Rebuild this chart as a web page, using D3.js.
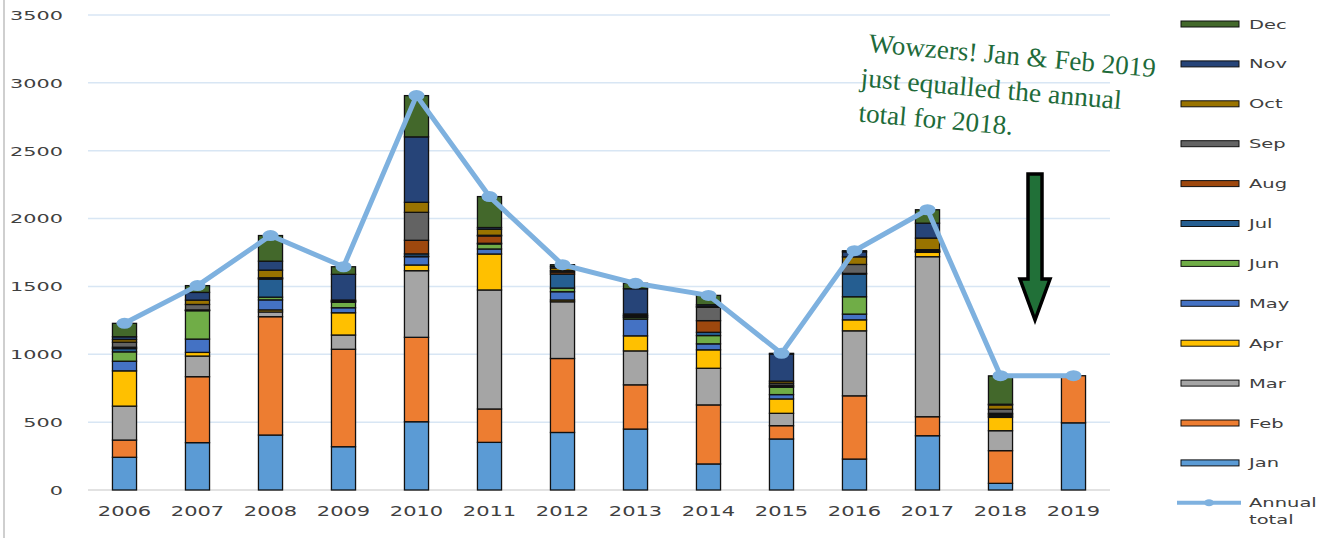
<!DOCTYPE html>
<html>
<head>
<meta charset="utf-8">
<script src="https://cdnjs.cloudflare.com/ajax/libs/d3/7.8.5/d3.min.js"></script>
<style>
  body { margin: 0; background: #fff; }
  svg { display: block; }
</style>
</head>
<body>
<div id="chart"></div>
<script>
var years = ["2006","2007","2008","2009","2010","2011","2012","2013","2014","2015","2016","2017","2018","2019"];
var months = ["Jan","Feb","Mar","Apr","May","Jun","Jul","Aug","Sep","Oct","Nov","Dec"];

var jan = [241,349,405,319,503,351,424,449,192,376,228,400,49,495];
var feb = [127,486,872,718,622,246,545,326,435,98,466,140,241,347];
var mar = [250,152,35,105,491,877,418,250,270,91,479,1179,147,0];
var apr = [260,27,15,164,42,265,13,111,136,106,81,32,98,0];
var may = [71,98,74,37,61,37,61,123,44,32,42,3,8,0];
var jun = [69,209,20,40,3,37,27,12,61,54,128,3,10,0];
var jul = [24,3,133,4,18,5,103,4,24,7,167,3,7,0];
var aug = [10,3,5,4,100,54,15,8,86,8,5,3,5,0];
var sep = [37,40,5,4,206,5,10,4,98,15,66,8,30,0];
var oct = [20,32,56,5,74,44,20,10,7,15,56,85,32,0];
var nov = [20,57,66,189,482,13,12,186,12,200,37,110,5,0];
var dec = [99,50,189,56,304,228,12,40,69,5,8,99,209,0];
var annualTotal = [1228,1506,1875,1645,2906,2162,1660,1523,1434,1007,1763,2065,842,842];

var yTicks = [0,500,1000,1500,2000,2500,3000,3500];

var monthColours = ["#5B9BD5","#ED7D31","#A5A5A5","#FFC000","#4472C4","#70AD47",
                    "#255E91","#9E480E","#636363","#997300","#264478","#43682B"];
var lineColour = "#7EB1DF";

var width = 1332, height = 538;
var plot = {left: 88, right: 1110, top: 15, bottom: 490};

var svg = d3.select("#chart").append("svg")
    .attr("width", width)
    .attr("height", height);

// left border of the picture
svg.append("line")
    .attr("x1", 4).attr("x2", 4).attr("y1", 0).attr("y2", height)
    .attr("stroke", "#cfcfcf").attr("stroke-width", 2);

var series = [jan,feb,mar,apr,may,jun,jul,aug,sep,oct,nov,dec];
var table = years.map(function(y, i) {
    var row = {year: y};
    months.forEach(function(m, j) { row[m] = series[j][i]; });
    return row;
});

var x = d3.scaleBand()
    .domain(years)
    .range([plot.left, plot.right])
    .paddingInner(0.67)
    .paddingOuter(0.335);

var y = d3.scaleLinear()
    .domain([0, 3500])
    .range([plot.bottom, plot.top]);

var colour = d3.scaleOrdinal().domain(months).range(monthColours);

// gridlines
svg.append("g")
    .selectAll("line")
    .data(yTicks.filter(function(t){ return t > 0; }))
    .enter().append("line")
    .attr("x1", plot.left).attr("x2", plot.right)
    .attr("y1", function(d){ return y(d); })
    .attr("y2", function(d){ return y(d); })
    .attr("stroke", "#d8e6f4")
    .attr("stroke-width", 1.5);

svg.append("line")
    .attr("x1", plot.left).attr("x2", plot.right)
    .attr("y1", plot.bottom).attr("y2", plot.bottom)
    .attr("stroke", "#d9d9d9").attr("stroke-width", 1.5);

// axes
var yAxis = svg.append("g")
    .attr("transform", "translate(" + plot.left + ",0)")
    .call(d3.axisLeft(y).tickValues(yTicks).tickSize(0).tickFormat(d3.format("d")));
yAxis.select(".domain").remove();
yAxis.selectAll("text")
    .attr("x", 0)
    .attr("dy", "0.34em")
    .attr("transform", "translate(-25,0) scale(1.6,1)")
    .style("font-family", "'DejaVu Sans', sans-serif")
    .style("font-size", "13px")
    .attr("fill", "#404040");

var xAxis = svg.append("g")
    .attr("transform", "translate(0," + plot.bottom + ")")
    .call(d3.axisBottom(x).tickSize(0));
xAxis.select(".domain").remove();
xAxis.selectAll("text")
    .attr("y", 0)
    .attr("dy", "0.34em")
    .attr("transform", "translate(0,21) scale(1.5,1)")
    .style("font-family", "'DejaVu Sans', sans-serif")
    .style("font-size", "14px")
    .attr("fill", "#404040");

// stacked bars
var stack = d3.stack().keys(months);
var layers = stack(table);

svg.append("g")
    .selectAll("g")
    .data(layers)
    .enter().append("g")
        .attr("fill", function(d){ return colour(d.key); })
    .selectAll("rect")
    .data(function(d){ return d; })
    .enter().append("rect")
        .attr("x", function(d){ return x(d.data.year); })
        .attr("width", x.bandwidth())
        .attr("y", function(d){ return y(d[1]); })
        .attr("height", function(d){ return y(d[0]) - y(d[1]); })
        .attr("stroke", "#111")
        .attr("stroke-width", 1.3);

// annual total line
var line = d3.line()
    .x(function(d, i){ return x(years[i]) + x.bandwidth() / 2; })
    .y(function(d){ return y(d); });

svg.append("path")
    .datum(annualTotal)
    .attr("d", line)
    .attr("fill", "none")
    .attr("stroke", lineColour)
    .attr("stroke-width", 5)
    .attr("stroke-linejoin", "round");

svg.append("g")
    .selectAll("ellipse")
    .data(annualTotal)
    .enter().append("ellipse")
    .attr("cx", function(d, i){ return x(years[i]) + x.bandwidth() / 2; })
    .attr("cy", function(d){ return y(d); })
    .attr("rx", 8).attr("ry", 5.5)
    .attr("fill", lineColour);

// legend
var legend = svg.append("g").attr("transform", "translate(1181,24)");
var legendRows = months.slice().reverse();

var item = legend.selectAll("g.item")
    .data(legendRows)
    .enter().append("g")
    .attr("class", "item")
    .attr("transform", function(d, i){ return "translate(0," + (i * 39.9) + ")"; });

item.append("rect")
    .attr("x", 0).attr("y", -3)
    .attr("width", 58).attr("height", 6)
    .attr("fill", function(d){ return colour(d); })
    .attr("stroke", "#111").attr("stroke-width", 1);

item.append("text")
    .attr("transform", "translate(68,0) scale(1.5,1)")
    .attr("dy", "0.35em")
    .style("font-family", "'DejaVu Sans', sans-serif")
    .style("font-size", "13px")
    .attr("fill", "#404040")
    .text(function(d){ return d; });

var lineItem = legend.append("g")
    .attr("transform", "translate(0," + (12 * 39.9) + ")");
lineItem.append("line")
    .attr("x1", -4).attr("x2", 60).attr("y1", 0).attr("y2", 0)
    .attr("stroke", lineColour).attr("stroke-width", 4);
lineItem.append("ellipse")
    .attr("cx", 28).attr("cy", 0).attr("rx", 5).attr("ry", 3.5)
    .attr("fill", lineColour);
var lt = lineItem.append("text")
    .attr("transform", "translate(68,0) scale(1.5,1)")
    .style("font-family", "'DejaVu Sans', sans-serif")
    .style("font-size", "13px")
    .attr("fill", "#404040");
lt.append("tspan").attr("x", 0).attr("dy", "0.35em").text("Annual");
lt.append("tspan").attr("x", 0).attr("dy", "1.3em").text("total");

// annotation
var note = svg.append("g")
    .attr("transform", "translate(868,52) rotate(5)")
    .attr("fill", "#1E6B3A")
    .style("font-family", "'Liberation Serif', 'DejaVu Serif', serif")
    .style("font-size", "27px")
    .style("white-space", "pre");
note.append("text").attr("x", 0).attr("y", 0)
    .attr("textLength", 288).attr("lengthAdjust", "spacingAndGlyphs")
    .text("Wowzers!  Jan & Feb 2019");
note.append("text").attr("x", -5).attr("y", 35)
    .attr("textLength", 262).attr("lengthAdjust", "spacingAndGlyphs")
    .text("just equalled the annual");
note.append("text").attr("x", -4).attr("y", 70)
    .attr("textLength", 155).attr("lengthAdjust", "spacingAndGlyphs")
    .text("total for 2018.");

// arrow
var ax = 1035;
svg.append("path")
    .attr("d", d3.line()([
        [ax - 7, 174], [ax + 7, 174], [ax + 7, 279], [ax + 15, 279],
        [ax, 320], [ax - 15, 279], [ax - 7, 279]
    ]) + "Z")
    .attr("fill", "#217038")
    .attr("stroke", "#000")
    .attr("stroke-width", 3.5)
    .attr("stroke-linejoin", "miter");
</script>
</body>
</html>
